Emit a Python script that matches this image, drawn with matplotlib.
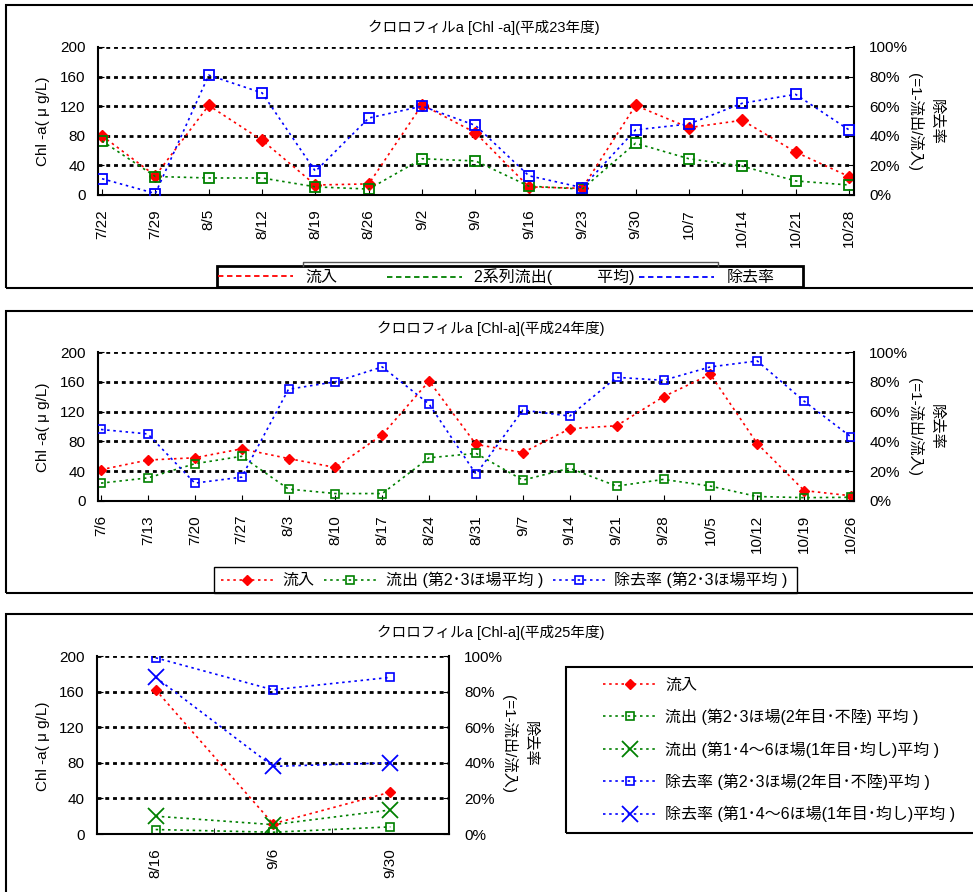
import matplotlib
matplotlib.use("Agg")
import matplotlib.pyplot as plt
from matplotlib.lines import Line2D
from matplotlib.patches import Rectangle

plt.rcParams['font.family'] = ['Liberation Sans', 'Noto Sans CJK JP', 'DejaVu Sans']

W, H = 973, 892

# 平成23年度
dates_23 = ['7/22', '7/29', '8/5', '8/12', '8/19', '8/26', '9/2', '9/9',
            '9/16', '9/23', '9/30', '10/7', '10/14', '10/21', '10/28']
inflow_23 = [80, 26, 121, 74, 13.5, 15, 122, 84, 11, 9, 121, 91, 101, 58, 25]
outflow_23 = [73, 25, 23, 23, 11, 8, 49, 46, 12, 8, 70, 49, 39, 19, 13.5]
removal_23 = [11, 1, 81, 69, 16, 52, 60, 47, 13, 5, 44, 48, 62, 68, 44]

# 平成24年度
dates_24 = ['7/6', '7/13', '7/20', '7/27', '8/3', '8/10', '8/17', '8/24', '8/31',
            '9/7', '9/14', '9/21', '9/28', '10/5', '10/12', '10/19', '10/26']
inflow_24 = [42, 55, 58, 70, 57, 45, 89, 161, 76, 65, 97, 101, 140, 170, 77, 14, 7]
outflow_24 = [24, 31, 50, 60, 16, 10, 10, 58, 64, 28, 44, 20, 29, 20, 6, 4.5, 5]
removal_24 = [48, 45, 12, 16, 75, 80, 90, 65, 18, 61, 57, 83, 81, 90, 94, 67, 43]

# 平成25年度
dates_25 = ['8/16', '9/6', '9/30']
inflow_25 = [162, 11.5, 47]
outflow_25_yr2 = [5, 2, 8]
outflow_25_yr1 = [20, 10.5, 27]
removal_25_yr2 = [99, 81, 88]
removal_25_yr1 = [88, 38, 40]

fig = plt.figure(figsize=(W / 100, H / 100), dpi=100)
fig.patch.set_facecolor('white')

FS = 11
DOT = (0, (1.5, 2.2))
RED, GREEN, BLUE = '#ff0000', '#008000', '#0000ff'


def fx(x):
    return x / W


def fy(y):
    return 1 - y / H


def add_axes(left, top, right, bottom):
    return fig.add_axes([fx(left), fy(bottom), (right - left) / W, (bottom - top) / H])


def frame(left, top, right, bottom, lw):
    fig.add_artist(Rectangle((fx(left), fy(bottom)), (right - left) / W,
                             (bottom - top) / H, transform=fig.transFigure,
                             fill=False, ec='black', lw=lw))


def style(ax, twin, dates, xlim, between=False):
    ax.set_ylim(0, 200)
    ax.set_yticks(range(0, 201, 40))
    ax.set_xlim(*xlim)
    ax.set_xticks(range(len(dates)))
    ax.set_xticklabels(dates, rotation=90)
    if between:
        ax.set_xticks([i + 0.5 for i in range(len(dates) - 1)], minor=True)
        ax.tick_params(axis='x', which='major', length=0, pad=10, labelsize=FS)
        ax.tick_params(axis='x', which='minor', direction='in', length=4)
    else:
        ax.tick_params(axis='x', direction='in', length=4, pad=10, labelsize=FS)
    ax.tick_params(axis='y', direction='in', length=4, pad=9, labelsize=FS)
    ax.grid(axis='y', color='black', lw=2, linestyle=(0, (1.4, 1.4)))
    ax.spines['top'].set_visible(False)
    for s in ('left', 'bottom', 'right'):
        ax.spines[s].set_linewidth(1.5)
    twin.set_ylim(0, 100)
    twin.set_yticks(range(0, 101, 20))
    twin.set_yticklabels([f'{v}%' for v in range(0, 101, 20)])
    twin.tick_params(axis='y', direction='in', length=4, pad=11, labelsize=FS)
    for s in twin.spines.values():
        s.set_visible(False)


def labels(title, tx, ty, ly, rx, ry):
    fig.text(fx(tx), fy(ty), title, ha='center', va='center', fontsize=10.5)
    fig.text(fx(43), fy(ly), 'Chl -a( μ g/L)', rotation=90, ha='center',
             va='center', fontsize=FS)
    fig.text(fx(rx), fy(ry), '除去率\n(=1-流出/流入)', rotation=270,
             ha='center', va='center', multialignment='center',
             linespacing=1.5, fontsize=FS)


# ---- 平成23年度 ----
frame(5.5, 5.5, 990, 288, 1.5)
ax1 = add_axes(98, 47, 854, 195)
tw1 = ax1.twinx()
x23 = range(len(dates_23))
ax1.plot(x23, inflow_23, color=RED, lw=1.2, ls=DOT, marker='D', ms=6.5,
         mfc=RED, mec=RED)
ax1.plot(x23, outflow_23, color=GREEN, lw=1.2, ls=DOT, marker='s', ms=7,
         mfc='none', mec=GREEN, mew=1.3)
tw1.plot(x23, removal_23, color=BLUE, lw=1.2, ls=DOT, marker='s', ms=7,
         mfc='none', mec=BLUE, mew=1.3)
style(ax1, tw1, dates_23, (-0.075, 14.094))
labels('クロロフィルa [Chl -a](平成23年度)', 484, 27, 121, 925, 122)

fig.add_artist(Line2D([fx(303), fx(303), fx(718), fx(718)],
                      [fy(266), fy(262), fy(262), fy(266)],
                      transform=fig.transFigure, color='#555555', lw=1))
frame(217, 266, 803, 287, 2)
dash = (0, (3, 2))
h_in = Line2D([], [], color=RED, lw=1.3, ls=dash)
h_out = Line2D([], [], color=GREEN, lw=1.3, ls=dash)
h_rem = Line2D([], [], color=BLUE, lw=1.3, ls=dash)
leg_kw = dict(frameon=False, borderpad=0, borderaxespad=0,
              bbox_transform=fig.transFigure, fontsize=11.5)
fig.legend([h_in], ['流入'], loc='center left',
           bbox_to_anchor=(fx(218), fy(277)), handlelength=4.7,
           handletextpad=0.75, **leg_kw)
fig.legend([h_out, h_rem], ['2系列流出(          平均)', '除去率'], ncol=2,
           loc='center left', bbox_to_anchor=(fx(387), fy(277)),
           handlelength=4.7, handletextpad=0.75, columnspacing=0.3, **leg_kw)

# ---- 平成24年度 ----
frame(5.5, 311, 990, 593, 1.5)
ax2 = add_axes(98, 352, 854, 501)
tw2 = ax2.twinx()
x24 = range(len(dates_24))
l_in, = ax2.plot(x24, inflow_24, color=RED, lw=1.2, ls=DOT, marker='D', ms=5.5,
                 mfc=RED, mec=RED)
l_out, = ax2.plot(x24, outflow_24, color=GREEN, lw=1.2, ls=DOT, marker='s',
                  ms=6, mfc='none', mec=GREEN, mew=1.2)
l_rem, = tw2.plot(x24, removal_24, color=BLUE, lw=1.2, ls=DOT, marker='s',
                  ms=6, mfc='none', mec=BLUE, mew=1.2)
style(ax2, tw2, dates_24, (-0.064, 16.064))
labels('クロロフィルa [Chl-a](平成24年度)', 491, 328, 427, 925, 427)

frame(214, 567, 797, 593, 1)
fig.legend([l_in, l_out, l_rem],
           ['流入', '流出 (第2･3ほ場平均 )', '除去率 (第2･3ほ場平均 )'], ncol=3,
           loc='center left', bbox_to_anchor=(fx(221), fy(580)),
           handlelength=3.3, handletextpad=0.55, columnspacing=0.6, **leg_kw)

# ---- 平成25年度 ----
frame(5.5, 614, 990, 900, 1.5)
ax3 = add_axes(97, 656, 449, 834)
tw3 = ax3.twinx()
x25 = range(len(dates_25))
m_in, = ax3.plot(x25, inflow_25, color=RED, lw=1.2, ls=DOT, marker='D', ms=5,
                 mfc=RED, mec=RED)
m_o2, = ax3.plot(x25, outflow_25_yr2, color=GREEN, lw=1.2, ls=DOT, marker='s',
                 ms=5.5, mfc='none', mec=GREEN, mew=1.2)
m_o1, = ax3.plot(x25, outflow_25_yr1, color=GREEN, lw=1.2, ls=DOT, marker='x',
                 ms=12, mew=1.3)
m_r2, = tw3.plot(x25, removal_25_yr2, color=BLUE, lw=1.2, ls=DOT, marker='s',
                 ms=5.5, mfc='none', mec=BLUE, mew=1.2)
m_r1, = tw3.plot(x25, removal_25_yr1, color=BLUE, lw=1.2, ls=DOT, marker='x',
                 ms=12, mew=1.3)
style(ax3, tw3, dates_25, (-0.5, 2.5), between=True)
labels('クロロフィルa [Chl-a](平成25年度)', 491, 632, 746, 519, 744)

frame(566, 667, 990, 833, 1.5)
fig.legend([m_in, m_o2, m_o1, m_r2, m_r1],
           ['流入',
            '流出 (第2･3ほ場(2年目･不陸) 平均 )',
            '流出 (第1･4～6ほ場(1年目･均し)平均 )',
            '除去率 (第2･3ほ場(2年目･不陸)平均 )',
            '除去率 (第1･4～6ほ場(1年目･均し)平均 )'],
           loc='center left', bbox_to_anchor=(fx(603), fy(750)),
           handlelength=3.4, handletextpad=0.5, labelspacing=1.0, **leg_kw)

fig.savefig('out.png', dpi=100)
